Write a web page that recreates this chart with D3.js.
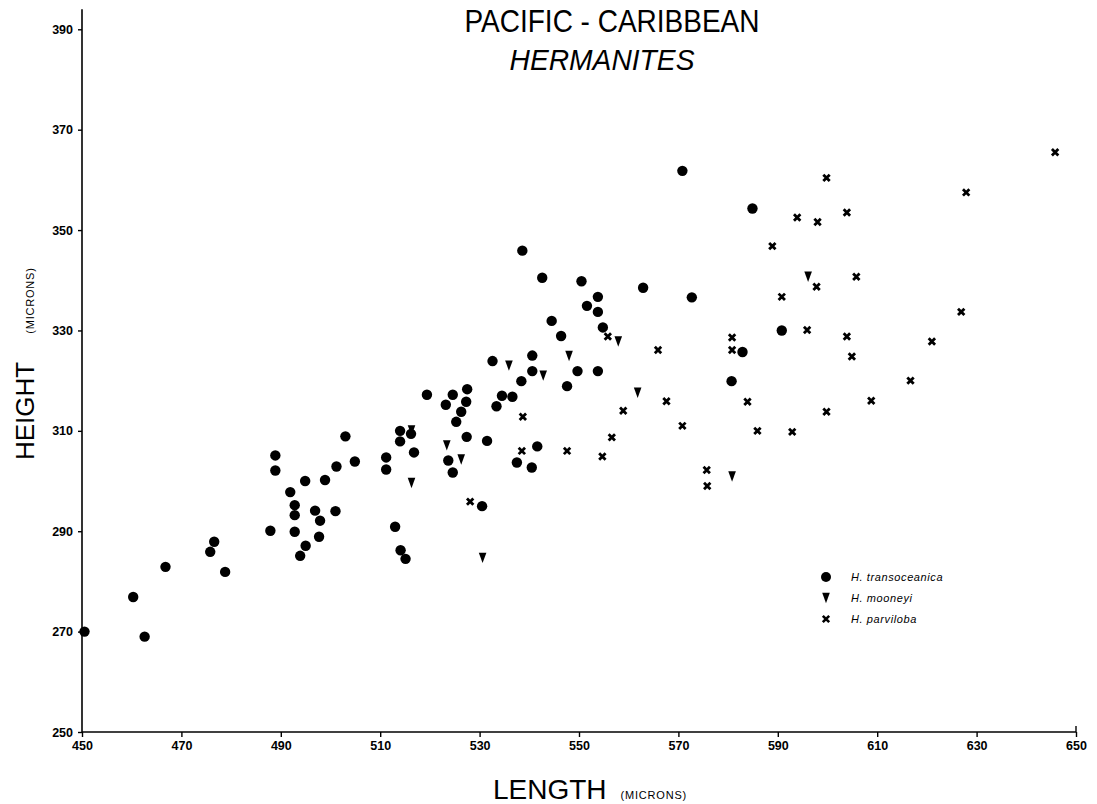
<!DOCTYPE html>
<html>
<head>
<meta charset="utf-8">
<script src="https://cdn.jsdelivr.net/npm/d3@7"></script>
<style>
  body { margin: 0; background: #fff; }
  svg { display: block; font-family: "Liberation Sans", Arial, Helvetica, sans-serif; }
  .tick text { font-weight: bold; font-size: 12.5px; fill: #000; }
  .tick line { stroke: #000; stroke-width: 1.4; }
</style>
</head>
<body>
<div id="chart"></div>
<script>
// Pacific - Caribbean Hermanites: length vs height (microns)
const W = 1097, H = 804;

const xTicks = [450, 470, 490, 510, 530, 550, 570, 590, 610, 630, 650];
const yTicks = [250, 270, 290, 310, 330, 350, 370, 390];

// H. transoceanica (circles)
const transLength = [450.5, 460.3, 462.6, 466.8, 475.8, 476.6, 478.8, 487.9, 488.9, 488.9, 491.9, 492.8, 492.8, 492.8,
  494.9, 495.0, 493.9, 496.9, 497.9, 497.7, 498.9, 501.0, 501.2, 503.0, 504.9, 511.2, 511.2, 513.0, 514.0, 514.0,
  514.1, 515.1, 538.6, 542.6, 550.5, 562.9, 572.7, 553.8, 551.6, 553.8, 544.5, 554.8, 546.4, 540.6, 532.6, 540.6,
  549.7, 553.8, 538.4, 547.6, 527.5, 519.4, 524.6, 534.5, 536.6, 523.2, 527.3, 533.4, 526.3, 525.3, 516.2, 516.8,
  527.4, 531.5, 541.6, 523.7, 524.6, 537.5, 540.5, 530.5, 570.8, 584.9, 590.8, 582.9, 580.7];
const transHeight = [270.0, 276.9, 269.0, 282.9, 285.9, 287.9, 281.9, 290.1, 305.1, 302.1, 297.8, 295.2, 293.2, 289.9,
  300.0, 287.1, 285.1, 294.1, 292.1, 288.9, 300.2, 294.0, 302.9, 308.9, 303.9, 304.7, 302.3, 290.9, 310.0, 307.9,
  286.2, 284.5, 345.9, 340.5, 339.8, 338.5, 336.6, 336.7, 334.9, 333.7, 331.9, 330.6, 328.9, 325.0, 323.9, 321.9,
  321.9, 321.9, 319.9, 318.9, 318.3, 317.2, 317.2, 317.0, 316.8, 315.2, 315.8, 314.9, 313.8, 311.8, 309.4, 305.7,
  308.8, 308.0, 306.9, 304.1, 301.7, 303.7, 302.7, 295.0, 361.8, 354.3, 330.0, 325.7, 319.9];

// H. mooneyi (triangles)
const mooneyiLength = [557.9, 548.0, 535.9, 542.8, 561.8, 516.3, 523.4, 526.3, 516.3, 530.6, 596.1, 580.8];
const mooneyiHeight = [327.8, 324.9, 323.0, 321.0, 317.6, 310.1, 307.1, 304.3, 299.6, 284.7, 340.7, 300.9];

// H. parviloba (crosses)
const parvLength = [555.8, 565.9, 567.6, 558.9, 570.8, 538.7, 556.6, 538.5, 547.6, 554.7, 528.1, 645.8, 599.8, 627.9,
  593.9, 598.0, 603.9, 588.9, 605.8, 597.8, 590.8, 626.9, 595.9, 603.9, 580.8, 580.8, 621.0, 604.9, 616.7, 583.9,
  608.8, 599.8, 585.9, 592.9, 575.7, 575.8];
const parvHeight = [328.8, 326.1, 315.9, 314.0, 311.0, 312.8, 308.7, 306.0, 306.0, 304.9, 295.9, 365.5, 360.4, 357.5,
  352.5, 351.6, 353.5, 346.8, 340.7, 338.7, 336.7, 333.7, 330.1, 328.8, 328.6, 326.1, 327.8, 324.8, 320.0, 315.8,
  316.0, 313.8, 310.0, 309.8, 302.2, 299.0];

const legendNames = ['H. transoceanica', 'H. mooneyi', 'H. parviloba'];

const svg = d3.select('#chart').append('svg').attr('width', W).attr('height', H);

const x = d3.scaleLinear().domain([450, 650]).range([82, 1076]);
const y = d3.scaleLinear().domain([250, 390]).range([732, 29.3]);

// axes
svg.append('g').attr('transform', `translate(0,${y(250)})`)
  .call(d3.axisBottom(x).tickValues(xTicks).tickFormat(d3.format('d')).tickSize(5).tickPadding(4).tickSizeOuter(0))
  .call(g => g.select('.domain').remove());
svg.append('g').attr('transform', `translate(${x(450)},0)`)
  .call(d3.axisLeft(y).tickValues(yTicks).tickFormat(d3.format('d')).tickSize(4).tickPadding(5).tickSizeOuter(0))
  .call(g => g.select('.domain').remove());

// axis lines (y line runs a little past 390)
svg.append('line').attr('x1', x(450)).attr('x2', x(450)).attr('y1', y(250)).attr('y2', y(394))
  .attr('stroke', '#000').attr('stroke-width', 1.6);
svg.append('line').attr('x1', x(450)).attr('x2', x(650)).attr('y1', y(250)).attr('y2', y(250))
  .attr('stroke', '#000').attr('stroke-width', 1.6);
svg.append('line').attr('x1', x(650)).attr('x2', x(650)).attr('y1', y(250)).attr('y2', y(251.2))
  .attr('stroke', '#000').attr('stroke-width', 1.4);

// titles
svg.append('text').attr('x', 612).attr('y', 32).attr('text-anchor', 'middle')
  .attr('textLength', 295).attr('lengthAdjust', 'spacingAndGlyphs')
  .style('font-size', '32px').text('PACIFIC - CARIBBEAN');
svg.append('text').attr('x', 602).attr('y', 70).attr('text-anchor', 'middle')
  .attr('textLength', 185).attr('lengthAdjust', 'spacingAndGlyphs')
  .style('font-size', '29px').style('font-style', 'italic').text('HERMANITES');

// axis labels
const xl = svg.append('text').attr('x', 493).attr('y', 799);
xl.append('tspan').style('font-size', '28px').text('LENGTH');
xl.append('tspan').attr('dx', 14).style('font-size', '11px').attr('letter-spacing', 0.8).text('(MICRONS)');

const yl = svg.append('text').attr('transform', 'translate(34,460) rotate(-90)');
yl.append('tspan').style('font-size', '26px').text('HEIGHT');
yl.append('tspan').attr('dx', 28).style('font-size', '11px').attr('letter-spacing', 0.8).text('(MICRONS)');

// markers
const tri = 'M-3.8,-5.2 L3.8,-5.2 L0,5.2 Z';
const cross = 'M-3.2,-3.2 L3.2,3.2 M-3.2,3.2 L3.2,-3.2';

const pts = svg.append('g');
pts.selectAll('circle.trans').data(d3.range(transLength.length)).join('circle').attr('class', 'trans')
  .attr('cx', i => x(transLength[i])).attr('cy', i => y(transHeight[i])).attr('r', 5.2).attr('fill', '#000');
pts.selectAll('path.moon').data(d3.range(mooneyiLength.length)).join('path').attr('class', 'moon')
  .attr('transform', i => `translate(${x(mooneyiLength[i])},${y(mooneyiHeight[i])})`)
  .attr('d', tri).attr('fill', '#000');
pts.selectAll('path.parv').data(d3.range(parvLength.length)).join('path').attr('class', 'parv')
  .attr('transform', i => `translate(${x(parvLength[i])},${y(parvHeight[i])})`)
  .attr('d', cross).attr('stroke', '#000').attr('stroke-width', 2.8).attr('fill', 'none');

// legend
const lg = svg.append('g').attr('transform', 'translate(826,577)');
legendNames.forEach((name, i) => {
  const row = lg.append('g').attr('transform', `translate(0,${i * 21})`);
  if (i === 0) row.append('circle').attr('r', 5).attr('fill', '#000');
  if (i === 1) row.append('path').attr('d', tri).attr('fill', '#000');
  if (i === 2) row.append('path').attr('d', cross).attr('stroke', '#000').attr('stroke-width', 2.6);
  row.append('text').attr('x', 25).attr('y', 4).style('font-size', '11px').style('font-style', 'italic')
    .attr('letter-spacing', 0.6).text(name);
});
</script>
</body>
</html>
